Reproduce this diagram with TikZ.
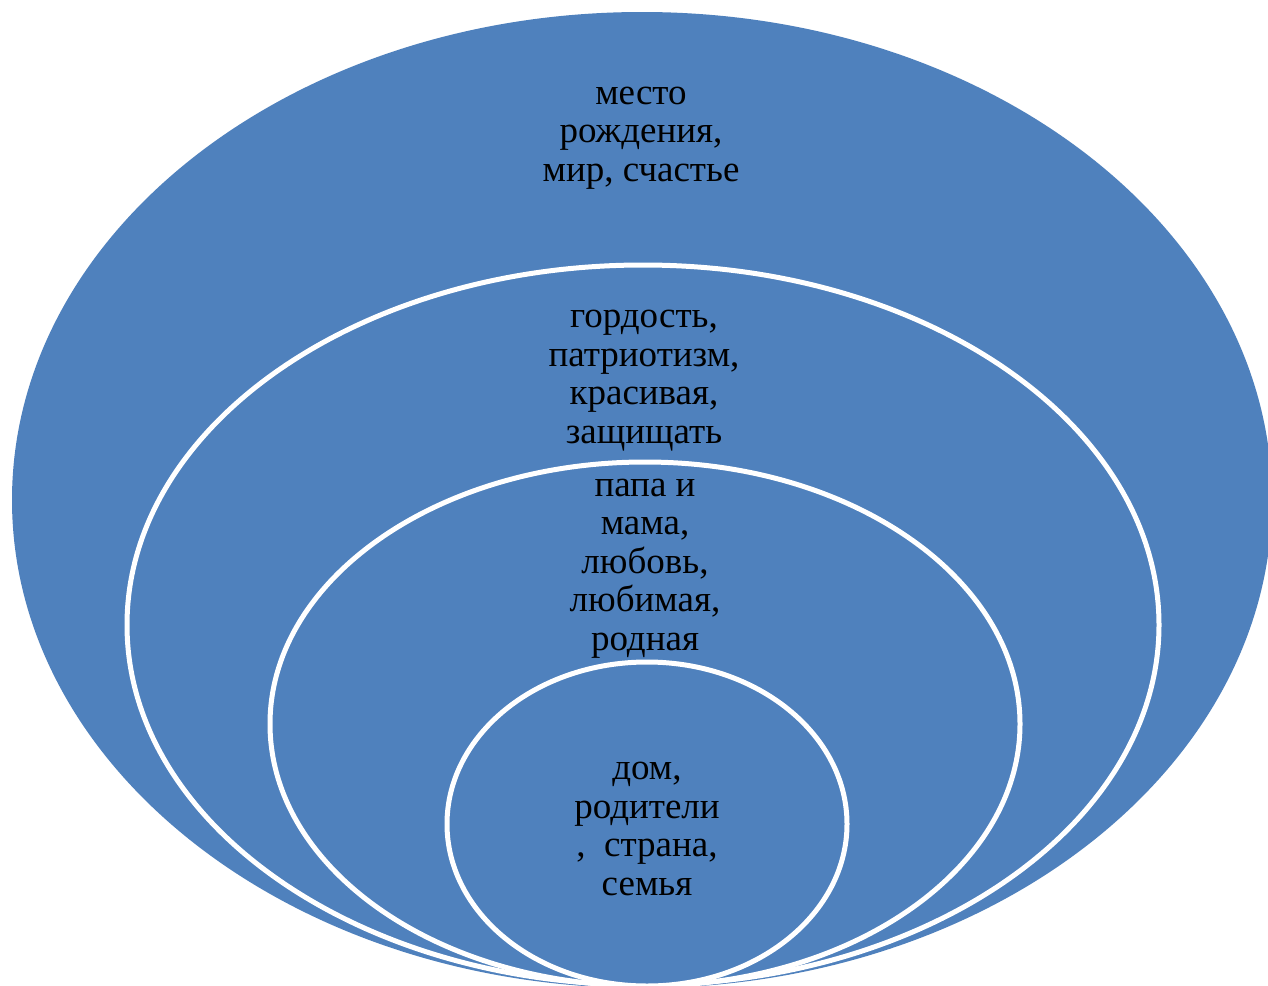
\documentclass[tikz,border=0pt]{standalone}
\usepackage{fontspec}
\setmainfont{Liberation Serif}
\definecolor{venn}{HTML}{4F81BD}
\begin{document}
\begin{tikzpicture}[x=1pt,y=-1pt,
  ring/.style={fill=venn,draw=white,line width=5pt},
  lbl/.style={align=center,inner sep=0pt,anchor=base,font=\fontsize{37}{38.5}\selectfont,text=black}]
\useasboundingbox (0,0) rectangle (1268,985);
\clip (0,0) rectangle (1268,985);
\fill[white] (0,0) rectangle (1268,985);
\path[fill=venn] (642,500) ellipse [x radius=630, y radius=488];
\path[ring] (643,625) ellipse [x radius=516, y radius=360];
\path[ring] (645,724) ellipse [x radius=375, y radius=262];
\path[ring] (647,824) ellipse [x radius=200, y radius=162];
\node[lbl] (t1) at (641,181) {место\\рождения,\\мир, счастье};
\node[lbl] (t2) at (644,443) {гордость,\\патриотизм,\\красивая,\\защищать};
\node[lbl] (t3) at (645,650) {папа и\\мама,\\любовь,\\любимая,\\родная};
\node[lbl] (t4) at (647,895) {дом,\\родители\\,\ \ страна,\\семья};
\end{tikzpicture}
\end{document}
